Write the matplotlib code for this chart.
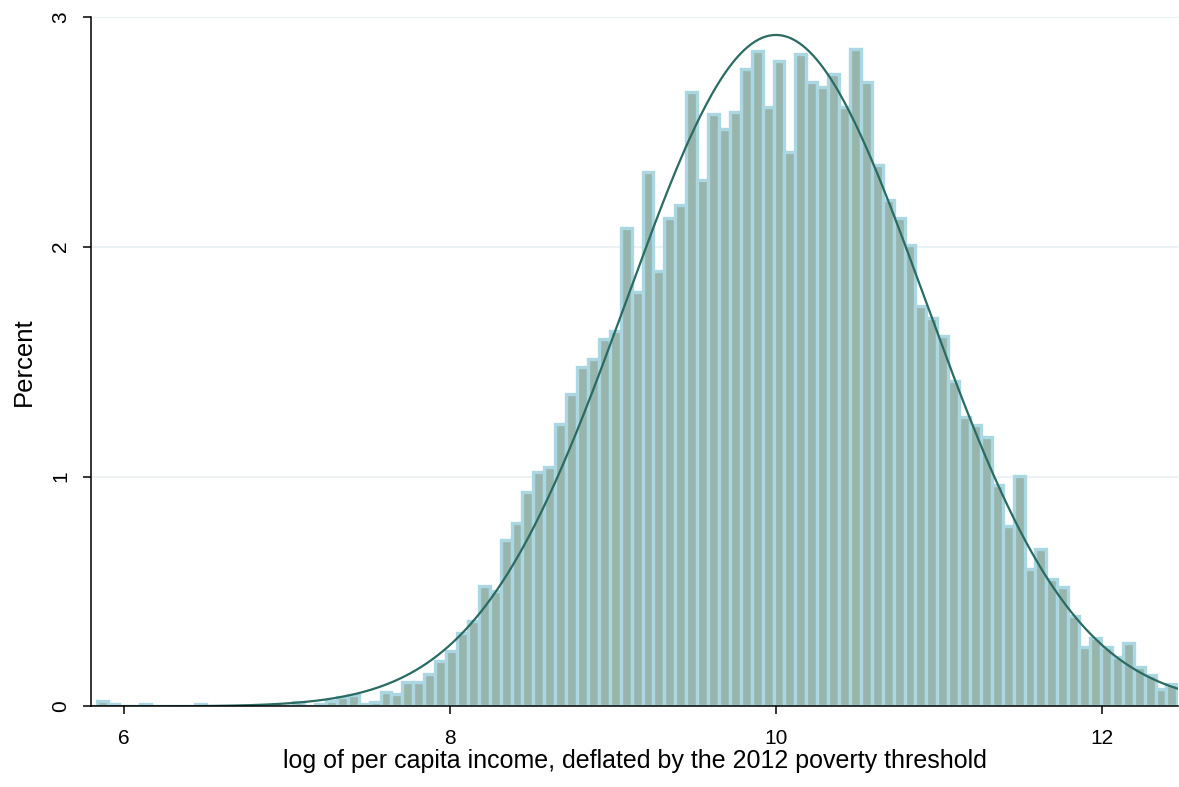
from matplotlib import pyplot as plt
import numpy as np

# Histogram of log per capita income: 99 equal-width bins, heights in percent
bin_start: float = 5.831
bin_width: float = 0.067
percent: list[float] = [
    0.023, 0.011, 0.0, 0.0, 0.011, 0.0, 0.0, 0.0, 0.0, 0.011,
    0.0, 0.0, 0.0, 0.0, 0.0, 0.0, 0.0, 0.0, 0.02, 0.0,
    0.011, 0.023, 0.04, 0.05, 0.01, 0.02, 0.065, 0.053, 0.108, 0.108,
    0.14, 0.198, 0.241, 0.321, 0.372, 0.524, 0.502, 0.724, 0.797, 0.933,
    1.02, 1.04, 1.229, 1.358, 1.478, 1.51, 1.597, 1.632, 2.08, 1.804,
    2.324, 1.894, 2.123, 2.18, 2.672, 2.289, 2.576, 2.512, 2.585, 2.772,
    2.85, 2.606, 2.806, 2.411, 2.838, 2.716, 2.695, 2.75, 2.606, 2.859,
    2.716, 2.354, 2.203, 2.123, 2.006, 1.742, 1.689, 1.612, 1.416, 1.258,
    1.226, 1.171, 0.963, 0.786, 1.004, 0.6, 0.687, 0.556, 0.521, 0.392,
    0.26, 0.297, 0.26, 0.217, 0.275, 0.173, 0.138, 0.075, 0.097,
]

# Normal density overlay
mean: float = 10.0
sd: float = 0.915

x_ticks: list[int] = [6, 8, 10, 12]
y_ticks: list[int] = [0, 1, 2, 3]

plt.rcParams['font.family'] = ['Liberation Sans', 'DejaVu Sans']

fig = plt.figure(figsize=(11.79, 7.87), dpi=100)
ax = fig.add_axes([0.0772, 0.1023, 0.9220, 0.8763])

left_edges: np.ndarray = bin_start + bin_width * np.arange(len(percent))
ax.bar(left_edges, percent, width=bin_width, align='edge',
       color='#97b5ad', edgecolor='#abd7e3', linewidth=2.4, zorder=2)

curve_x: np.ndarray = np.linspace(5.79, 12.47, 600)
density: np.ndarray = np.exp(-0.5 * ((curve_x - mean) / sd) ** 2) / (sd * np.sqrt(2 * np.pi))
ax.plot(curve_x, 100 * bin_width * density, color='#2a6b62', linewidth=1.6, zorder=3)

ax.set_xlim(5.796, 12.468)
ax.set_ylim(0, 3)
ax.set_xticks(x_ticks)
ax.set_yticks(y_ticks)
ax.set_xticklabels([str(t) for t in x_ticks])
ax.set_yticklabels([str(t) for t in y_ticks], rotation=90, va='center')

ax.grid(axis='y', color='#e9f1f3', linewidth=1.3, zorder=0)
ax.set_axisbelow(True)

for side in ['top', 'right']:
    ax.spines[side].set_visible(False)
for side in ['left', 'bottom']:
    ax.spines[side].set_linewidth(1.1)
    ax.spines[side].set_zorder(4)

ax.tick_params(axis='both', direction='out', length=6, width=1.1, labelsize=15, colors='black')
ax.tick_params(axis='x', pad=10.5)
ax.tick_params(axis='y', pad=9)

ax.set_xlabel('log of per capita income, deflated by the 2012 poverty threshold', fontsize=18, va='baseline')
ax.xaxis.set_label_coords(0.5, -0.0895)
ax.set_ylabel('Percent', fontsize=18.5, va='baseline')
ax.yaxis.set_label_coords(-0.0552, 0.5)

fig.savefig('out.png', dpi=100)
